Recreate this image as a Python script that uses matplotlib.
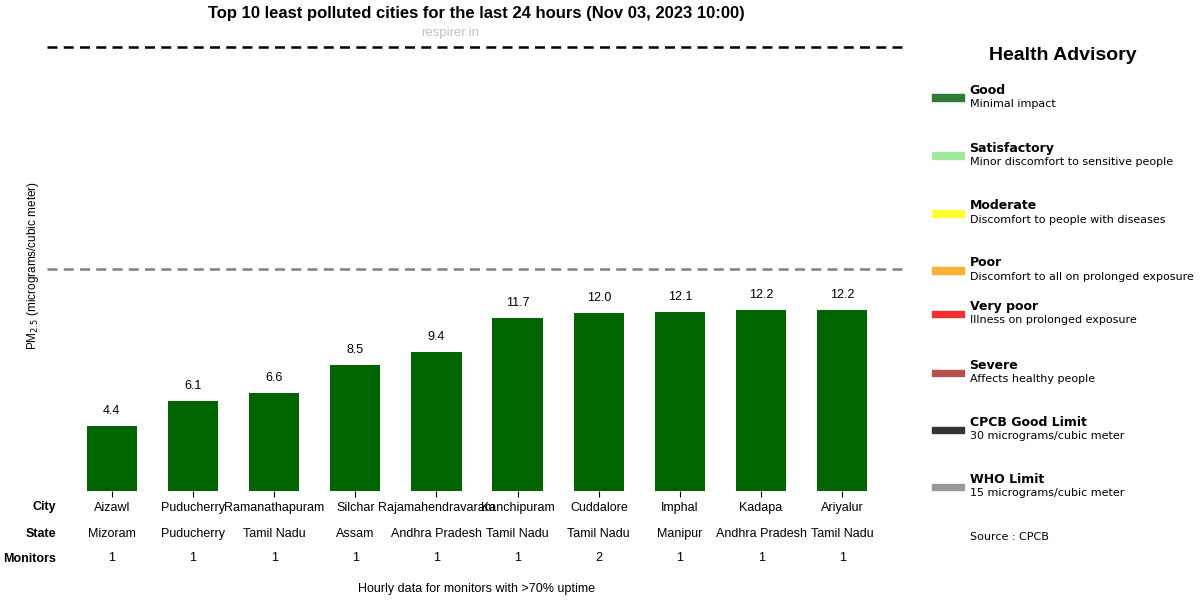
import numpy as np
import matplotlib.pyplot as plt
from matplotlib.patches import Rectangle

cities = ["Aizawl", "Puducherry", "Ramanathapuram", "Silchar", "Rajamahendravaram",
          "Kanchipuram", "Cuddalore", "Imphal", "Kadapa", "Ariyalur"]
states = ["Mizoram", "Puducherry", "Tamil Nadu", "Assam", "Andhra Pradesh",
          "Tamil Nadu", "Tamil Nadu", "Manipur", "Andhra Pradesh", "Tamil Nadu"]
monitors = [1, 1, 1, 1, 1, 1, 2, 1, 1, 1]
pm25 = [4.4, 6.1, 6.6, 8.5, 9.4, 11.7, 12.0, 12.1, 12.2, 12.2]

cpcb_limit = 30
who_limit = 15

adv_names = ["Good", "Satisfactory", "Moderate", "Poor", "Very poor", "Severe",
             "CPCB Good Limit", "WHO Limit"]
adv_desc = ["Minimal impact", "Minor discomfort to sensitive people",
            "Discomfort to people with diseases", "Discomfort to all on prolonged exposure",
            "Illness on prolonged exposure", "Affects healthy people",
            "30 micrograms/cubic meter", "15 micrograms/cubic meter"]
adv_colors = ["#2e7d32", "#a3e89f", "#ffff33", "#f9b233", "#ef3030", "#b5524e",
              "#333333", "#999999"]
adv_y = [0.838, 0.741, 0.645, 0.550, 0.477, 0.379, 0.284, 0.189]

plt.rcParams['font.family'] = ['Liberation Sans', 'DejaVu Sans']

fig = plt.figure(figsize=(12, 6), dpi=100)
ax = fig.add_axes([0.039, 0.182, 0.717, 0.752])

X = np.arange(len(cities))
ax.bar(X, pm25, 0.62, color='#006400')
for x, v in zip(X, pm25):
    ax.text(x, v + 0.6, f"{v:.1f}", ha='center', va='bottom', fontsize=9)

ax.axhline(cpcb_limit, color='black', linestyle='--', linewidth=1.8, dashes=(4, 2.5))
ax.axhline(who_limit, color='gray', linestyle='--', linewidth=1.8, dashes=(4, 2.5))

ax.set_xlim(-0.8, 9.8)
ax.set_ylim(0, 30.5)
ax.set_yticks([])
ax.set_xticks(X)
ax.set_xticklabels(cities, fontsize=9)
ax.tick_params(axis='x', length=4, pad=4)
for s in ax.spines.values():
    s.set_visible(False)
ax.set_ylabel("PM$_{2.5}$ (micrograms/cubic meter)", fontsize=8.5, labelpad=4)

trans = ax.get_xaxis_transform()
for x, st, m in zip(X, states, monitors):
    ax.text(x, -0.095, st, transform=trans, ha='center', va='center', fontsize=9)
    ax.text(x, -0.150, str(m), transform=trans, ha='center', va='center', fontsize=9)
for lab, yy in [("City", -0.035), ("State", -0.095), ("Monitors", -0.150)]:
    ax.text(0.047, 1 - (491 - yy * 451) / 600, lab, transform=fig.transFigure,
            ha='right', va='center', fontsize=9, fontweight='bold')

fig.text(0.397, 0.018, "Hourly data for monitors with >70% uptime", ha='center',
         va='center', fontsize=9)

fig.text(0.397, 0.978, "Top 10 least polluted cities for the last 24 hours (Nov 03, 2023 10:00)",
         ha='center', va='center', fontsize=12, fontweight='bold')
fig.text(0.375, 0.945, "respirer.in", ha='center', va='center', fontsize=9.5, color='#c0c0c0')

# health advisory panel
fig.text(0.886, 0.907, "Health Advisory", ha='center', va='center', fontsize=14,
         fontweight='bold')
for name, desc, col, yy in zip(adv_names, adv_desc, adv_colors, adv_y):
    fig.add_artist(Rectangle((0.777, yy - 0.006), 0.026, 0.011, transform=fig.transFigure,
                             color=col))
    fig.text(0.808, yy + 0.012, name, ha='left', va='center', fontsize=9,
             fontweight='bold', family=['DejaVu Sans'])
    fig.text(0.808, yy - 0.011, desc, ha='left', va='center', fontsize=8,
             family=['DejaVu Sans'])
fig.text(0.808, 0.105, "Source : CPCB", ha='left', va='center', fontsize=8,
         family=['DejaVu Sans'])

fig.savefig("out.png", dpi=100)
